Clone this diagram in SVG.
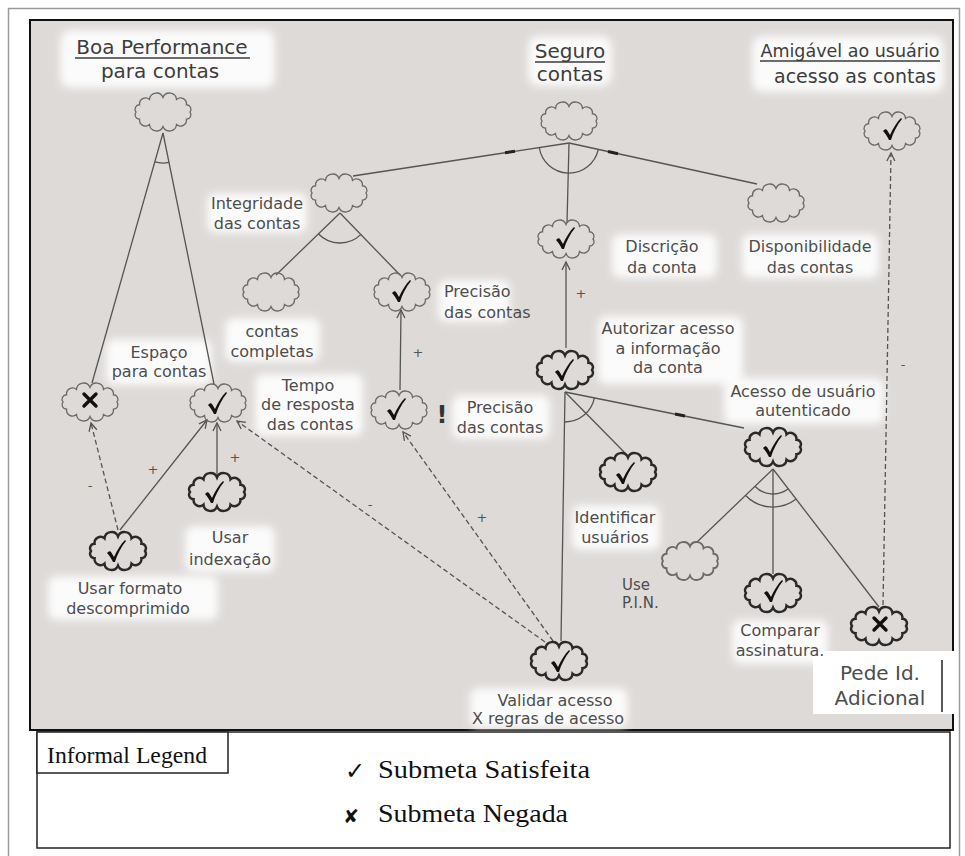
<svg xmlns="http://www.w3.org/2000/svg" xmlns:xlink="http://www.w3.org/1999/xlink" width="965" height="856" viewBox="0 0 965 856">
<style>
.cl{fill:none;stroke:#6a6a6a;stroke-width:1.3}
.ck{fill:none;stroke:#2a2a2a;stroke-width:2.4}
.lbl{font-family:"DejaVu Sans","Liberation Sans",sans-serif;font-size:16px;fill:#4d4d4d}
.ttl{font-family:"DejaVu Sans","Liberation Sans",sans-serif;font-size:20px;fill:#3d3d3d}
.ln{stroke:#555;stroke-width:1.3;fill:none}
.dl{stroke:#555;stroke-width:1.3;fill:none;stroke-dasharray:5 3}
.mk{stroke:#222;stroke-width:3;fill:none}
.sg{font-family:"DejaVu Sans",sans-serif;font-size:13px;fill:#555}
.glow{fill:#fff;opacity:0.9;filter:url(#blur)}
.chk{fill:#111}
.xm{stroke:#111;stroke-width:3.4;stroke-linecap:round;fill:none}
.ser{font-family:"Liberation Serif","Times New Roman",serif;fill:#111}
</style>
<defs>
<filter id="blur" x="-30%" y="-50%" width="160%" height="200%"><feGaussianBlur stdDeviation="4"/></filter>
<path id="cloud" d="M27,0 A4.5,4.5 0 0 1 23.4,7.25 A6,6 0 0 1 13.5,12.56 A7,7 0 0 1 0,14.5 A7,7 0 0 1 -13.5,12.56 A6,6 0 0 1 -23.4,7.25 A4.5,4.5 0 0 1 -27,0 A4.5,4.5 0 0 1 -23.4,-7.25 A6,6 0 0 1 -13.5,-12.56 A7,7 0 0 1 0,-14.5 A7,7 0 0 1 13.5,-12.56 A6,6 0 0 1 23.4,-7.25 A4.5,4.5 0 0 1 27,0 Z"/>
<path id="chk" d="M-9,1 C-7,-1 -6,-1 -5,0 L-2,5 C1,-2 5,-8 9,-12 L10,-11 C5,-5 1,3 -1,10 L-3,10 C-5,6 -7,3 -9,1 Z"/>
<path id="xmk" d="M-6,-6 L6,6 M6,-6 L-6,6"/>
<marker id="ah" viewBox="-10 -6 12 12" refX="0" refY="0" markerWidth="12" markerHeight="12" orient="auto" markerUnits="userSpaceOnUse"><path d="M-8,-4 L0,0 L-8,4" fill="none" stroke="#555" stroke-width="1.3"/></marker>
</defs>

<rect x="0" y="0" width="965" height="856" fill="#fff"/>
<rect x="8.5" y="8.5" width="951" height="900" fill="none" stroke="#9a9a9a" stroke-width="1.5"/>
<rect x="30" y="20" width="923" height="710" fill="#dddad8" stroke="#111" stroke-width="2"/>

<g id="glows">
<rect class="glow" x="60" y="30" width="215" height="58" rx="10"/>
<rect class="glow" x="528" y="36" width="84" height="50" rx="10"/>
<rect class="glow" x="752" y="36" width="192" height="56" rx="10"/>
<rect class="glow" x="207" y="193" width="100" height="40" rx="8"/>
<rect class="glow" x="612" y="234" width="105" height="44" rx="8"/>
<rect class="glow" x="742" y="234" width="137" height="44" rx="8"/>
<rect class="glow" x="225" y="318" width="95" height="44" rx="8"/>
<rect class="glow" x="438" y="280" width="72" height="42" rx="8"/>
<rect class="glow" x="106" y="339" width="106" height="46" rx="8"/>
<rect class="glow" x="255" y="374" width="108" height="62" rx="8"/>
<rect class="glow" x="452" y="395" width="98" height="44" rx="8"/>
<rect class="glow" x="598" y="316" width="145" height="68" rx="8"/>
<rect class="glow" x="724" y="378" width="160" height="46" rx="8"/>
<rect class="glow" x="572" y="505" width="88" height="45" rx="8"/>
<rect class="glow" x="185" y="526" width="90" height="46" rx="8"/>
<rect class="glow" x="48" y="576" width="170" height="44" rx="8"/>
<rect class="glow" x="732" y="620" width="96" height="44" rx="8"/>
<rect class="glow" x="470" y="688" width="158" height="40" rx="8"/>
</g>

<g id="connectors">
<line class="ln" x1="163" y1="133" x2="92" y2="383"/>
<line class="ln" x1="163" y1="133" x2="214" y2="384"/>
<path class="ln" d="M154.8,161.9 A30,30 0 0 0 169,162.4"/>
<line class="ln" x1="569" y1="143" x2="353" y2="176"/>
<line class="ln" x1="569" y1="143" x2="757" y2="184"/>
<line class="ln" x1="569" y1="143" x2="567" y2="223"/>
<path class="ln" d="M539.3,147.5 A30,30 0 0 0 598.3,149.4"/>
<line class="mk" x1="505" y1="152.8" x2="515" y2="151.3"/>
<line class="mk" x1="608" y1="151.5" x2="618" y2="153.7"/>
<line class="ln" x1="340" y1="213" x2="276" y2="275"/>
<line class="ln" x1="340" y1="213" x2="400" y2="275"/>
<path class="ln" d="M318.3,233.7 A30,30 0 0 0 361,234.4"/>
<line class="ln" x1="400" y1="390" x2="401" y2="310" marker-end="url(#ah)"/>
<line class="ln" x1="566" y1="348" x2="566" y2="262" marker-end="url(#ah)"/>
<line class="ln" x1="565" y1="392" x2="625" y2="453"/>
<line class="ln" x1="565" y1="392" x2="744" y2="428"/>
<line class="ln" x1="565" y1="392" x2="561" y2="641"/>
<path class="ln" d="M564.5,422 A30,30 0 0 0 594.4,397.9"/>
<line class="mk" x1="675" y1="414" x2="685" y2="416"/>
<line class="ln" x1="773" y1="469" x2="697" y2="542"/>
<line class="ln" x1="773" y1="469" x2="773" y2="574"/>
<line class="ln" x1="773" y1="469" x2="879" y2="607"/>
<path class="ln" d="M754.9,486.2 A25,25 0 0 0 788.3,488.8"/>
<path class="ln" d="M745.4,495.2 A38,38 0 0 0 796.2,499.1"/>
<line class="dl" x1="883" y1="605" x2="891" y2="153" marker-end="url(#ah)"/>
<line class="dl" x1="118" y1="530" x2="91" y2="423" marker-end="url(#ah)"/>
<line class="ln" x1="120" y1="530" x2="207" y2="420" marker-end="url(#ah)"/>
<line class="ln" x1="217" y1="477" x2="217" y2="423" marker-end="url(#ah)"/>
<line class="dl" x1="545" y1="642" x2="237" y2="421" marker-end="url(#ah)"/>
<line class="dl" x1="553" y1="641" x2="403" y2="432" marker-end="url(#ah)"/>
<text class="sg" x="418" y="357" text-anchor="middle">+</text>
<text class="sg" x="581" y="298" text-anchor="middle">+</text>
<text class="sg" x="153" y="474" text-anchor="middle">+</text>
<text class="sg" x="235" y="462" text-anchor="middle">+</text>
<text class="sg" x="482" y="522" text-anchor="middle">+</text>
<text class="sg" x="90" y="490" text-anchor="middle">-</text>
<text class="sg" x="370" y="509" text-anchor="middle">-</text>
<text class="sg" x="903" y="369" text-anchor="middle">-</text>
</g>

<g id="n-boa">
<use xlink:href="#cloud" x="163" y="112" class="cl"/>
<text class="ttl" x="162" y="54" text-anchor="middle">Boa Performance</text>
<line x1="75" y1="58" x2="250" y2="58" stroke="#3d3d3d" stroke-width="1.3"/>
<text class="ttl" x="160" y="78" text-anchor="middle">para contas</text>
</g>
<g id="n-seguro">
<use xlink:href="#cloud" x="569" y="121" class="cl"/>
<text class="ttl" x="570" y="58" text-anchor="middle">Seguro</text>
<line x1="535" y1="62" x2="605" y2="62" stroke="#3d3d3d" stroke-width="1.3"/>
<text class="ttl" x="570" y="81" text-anchor="middle">contas</text>
</g>
<g id="n-amigavel">
<use xlink:href="#cloud" x="892" y="131" class="cl"/>
<use xlink:href="#chk" x="892" y="130" class="chk"/>
<text class="ttl" x="850" y="57" text-anchor="middle" style="font-size:17.5px">Amigável ao usuário</text>
<line x1="760" y1="61" x2="940" y2="61" stroke="#3d3d3d" stroke-width="1.3"/>
<text class="ttl" x="855" y="83" text-anchor="middle" style="font-size:19px">acesso as contas</text>
</g>
<g id="n-integridade">
<use xlink:href="#cloud" x="339" y="193" class="cl"/>
<text class="lbl" x="257" y="209" text-anchor="middle">Integridade</text>
<text class="lbl" x="257" y="229" text-anchor="middle">das contas</text>
</g>
<g id="n-disponibilidade">
<use xlink:href="#cloud" x="776" y="203" class="cl"/>
<text class="lbl" x="810" y="252" text-anchor="middle">Disponibilidade</text>
<text class="lbl" x="810" y="273" text-anchor="middle">das contas</text>
</g>
<g id="n-discricao">
<use xlink:href="#cloud" x="566" y="239" class="cl"/>
<use xlink:href="#chk" x="565" y="239" class="chk"/>
<text class="lbl" x="662" y="252" text-anchor="middle">Discrição</text>
<text class="lbl" x="662" y="273" text-anchor="middle">da conta</text>
</g>
<g id="n-completas">
<use xlink:href="#cloud" x="271" y="292" class="cl"/>
<text class="lbl" x="272" y="337" text-anchor="middle">contas</text>
<text class="lbl" x="272" y="357" text-anchor="middle">completas</text>
</g>
<g id="n-precisao1">
<use xlink:href="#cloud" x="402" y="292" class="cl"/>
<use xlink:href="#chk" x="401" y="292" class="chk"/>
<text class="lbl" x="444" y="297">Precisão</text>
<text class="lbl" x="444" y="318">das contas</text>
</g>
<g id="n-espaco">
<use xlink:href="#cloud" x="90" y="402" class="cl"/>
<use xlink:href="#xmk" x="90" y="400" class="xm"/>
<text class="lbl" x="159" y="358" text-anchor="middle">Espaço</text>
<text class="lbl" x="159" y="377" text-anchor="middle">para contas</text>
</g>
<g id="n-tempo">
<use xlink:href="#cloud" x="218" y="403" class="cl"/>
<use xlink:href="#chk" x="217" y="404" class="chk"/>
<text class="lbl" x="308" y="391" text-anchor="middle">Tempo</text>
<text class="lbl" x="308" y="410" text-anchor="middle">de resposta</text>
<text class="lbl" x="310" y="430" text-anchor="middle">das contas</text>
</g>
<g id="n-precisao2">
<use xlink:href="#cloud" x="399" y="410" class="cl"/>
<use xlink:href="#chk" x="396" y="410" class="chk"/>
<text x="442" y="423" text-anchor="middle" font-family="DejaVu Sans,sans-serif" font-size="24" font-weight="bold" fill="#333">!</text>
<text class="lbl" x="500" y="413" text-anchor="middle">Precisão</text>
<text class="lbl" x="500" y="433" text-anchor="middle">das contas</text>
</g>
<g id="n-autorizar">
<use xlink:href="#cloud" x="565" y="370" class="ck"/>
<use xlink:href="#chk" x="564" y="371" class="chk"/>
<text class="lbl" x="668" y="334" text-anchor="middle">Autorizar acesso</text>
<text class="lbl" x="668" y="354" text-anchor="middle">a informação</text>
<text class="lbl" x="668" y="373" text-anchor="middle">da conta</text>
</g>
<g id="n-acesso">
<use xlink:href="#cloud" x="773" y="447" class="ck"/>
<use xlink:href="#chk" x="772" y="447" class="chk"/>
<text class="lbl" x="803" y="397" text-anchor="middle">Acesso de usuário</text>
<text class="lbl" x="803" y="416" text-anchor="middle">autenticado</text>
</g>
<g id="n-identificar">
<use xlink:href="#cloud" x="628" y="472" class="ck"/>
<use xlink:href="#chk" x="625" y="474" class="chk"/>
<text class="lbl" x="615" y="523" text-anchor="middle">Identificar</text>
<text class="lbl" x="615" y="543" text-anchor="middle">usuários</text>
</g>
<g id="n-indexacao">
<use xlink:href="#cloud" x="217" y="492" class="ck"/>
<use xlink:href="#chk" x="214" y="493" class="chk"/>
<text class="lbl" x="230" y="543" text-anchor="middle">Usar</text>
<text class="lbl" x="230" y="565" text-anchor="middle">indexação</text>
</g>
<g id="n-formato">
<use xlink:href="#cloud" x="118" y="551" class="ck"/>
<use xlink:href="#chk" x="116" y="552" class="chk"/>
<text class="lbl" x="130" y="594" text-anchor="middle">Usar formato</text>
<text class="lbl" x="128" y="614" text-anchor="middle">descomprimido</text>
</g>
<g id="n-pin">
<use xlink:href="#cloud" x="690" y="561" class="cl" style="stroke-width:1.8"/>
<text class="lbl" x="622" y="590" style="font-size:15px">Use</text>
<text class="lbl" x="622" y="608" style="font-size:15px">P.I.N.</text>
</g>
<g id="n-pede">
<use xlink:href="#cloud" x="879" y="626" class="ck"/>
<use xlink:href="#xmk" x="880" y="624" class="xm"/>
<rect x="813" y="651" width="142" height="63" fill="#fff"/>
<line x1="942" y1="660" x2="942" y2="712" stroke="#222" stroke-width="1.5"/>
<text class="lbl" x="880" y="680" text-anchor="middle" style="font-size:20px">Pede Id.</text>
<text class="lbl" x="880" y="705" text-anchor="middle" style="font-size:20px">Adicional</text>
</g>
<g id="n-comparar">
<use xlink:href="#cloud" x="773" y="593" class="ck"/>
<use xlink:href="#chk" x="773" y="592" class="chk"/>
<text class="lbl" x="780" y="636" text-anchor="middle">Comparar</text>
<text class="lbl" x="780" y="656" text-anchor="middle">assinatura.</text>
</g>
<g id="n-validar">
<use xlink:href="#cloud" x="559" y="661" class="ck"/>
<use xlink:href="#chk" x="560" y="662" class="chk"/>
<text class="lbl" x="555" y="706" text-anchor="middle">Validar acesso</text>
<text class="lbl" x="548" y="724" text-anchor="middle">X regras de acesso</text>
</g>

<g id="legend">
<rect x="37" y="732" width="913" height="116" fill="#fff" stroke="#222" stroke-width="1.5"/>
<rect x="37" y="732" width="191" height="41" fill="#fff" stroke="#222" stroke-width="1.5"/>
<text class="ser" x="47" y="763" font-size="23" textLength="160" lengthAdjust="spacingAndGlyphs">Informal Legend</text>
<text x="345" y="779" font-family="DejaVu Sans,sans-serif" font-size="24" fill="#111">✓</text>
<text class="ser" x="378" y="778" font-size="26" textLength="212" lengthAdjust="spacingAndGlyphs">Submeta Satisfeita</text>
<text x="343" y="823" font-family="DejaVu Sans,sans-serif" font-size="19" fill="#111">✘</text>
<text class="ser" x="378" y="822" font-size="26" textLength="190" lengthAdjust="spacingAndGlyphs">Submeta Negada</text>
</g>
</svg>
